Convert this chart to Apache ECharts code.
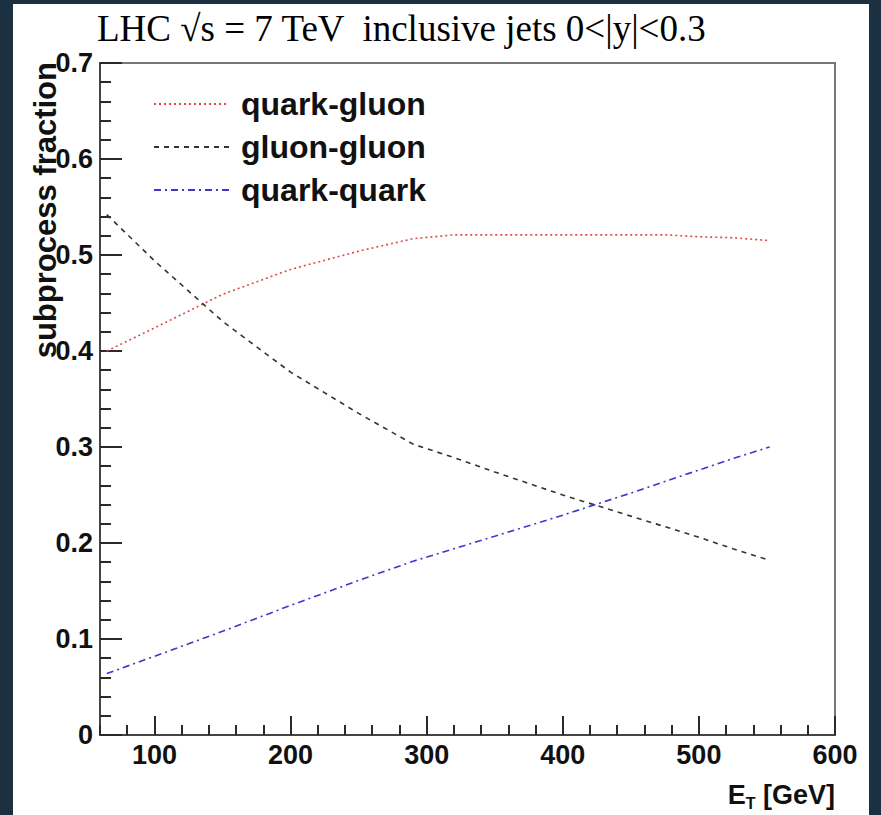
<!DOCTYPE html>
<html>
<head>
<meta charset="utf-8">
<script src="https://cdn.jsdelivr.net/npm/echarts@6/dist/echarts.min.js"></script>
<style>
  html, body { margin: 0; padding: 0; background: #1b3142; width: 881px; height: 815px; overflow: hidden; }
  #chart { position: absolute; left: 13px; top: 4px; width: 856px; height: 811px; background: #ffffff; }
</style>
</head>
<body>
<div id="chart"></div>
<script>
// ---- data ----
const etValues = [65, 100, 150, 200, 250, 290, 320, 350, 400, 450, 475, 500, 525, 552];
const quarkGluon = [0.400, 0.424, 0.459, 0.485, 0.504, 0.517, 0.521, 0.521, 0.521, 0.521, 0.521, 0.519, 0.518, 0.515];
const gluonGluon = [0.542, 0.494, 0.431, 0.378, 0.335, 0.303, 0.289, 0.274, 0.250, 0.228, 0.217, 0.206, 0.194, 0.182];
const quarkQuark = [0.064, 0.082, 0.108, 0.135, 0.161, 0.181, 0.194, 0.207, 0.229, 0.252, 0.264, 0.276, 0.288, 0.300];
const seriesNames = ['quark-gluon', 'gluon-gluon', 'quark-quark'];
const xMajorTicks = [100, 200, 300, 400, 500, 600];
const yMajorTicks = [0, 0.1, 0.2, 0.3, 0.4, 0.5, 0.6, 0.7];
const titleText = 'LHC \u221As = 7 TeV  inclusive jets 0<|y|<0.3';
const yAxisTitle = 'subprocess fraction';

function pairs(xs, ys) { return xs.map((x, i) => [x, ys[i]]); }

const chart = echarts.init(document.getElementById('chart'), null, { renderer: 'svg' });
const labelFont = { fontFamily: 'Liberation Sans', fontWeight: 'bold', fontSize: 27, color: '#111' };
const tickLine = { color: '#2a2a2a', width: 2 };

chart.setOption({
  animation: false,
  backgroundColor: '#ffffff',
  title: {
    text: titleText, left: 84, top: 6, padding: 0,
    textStyle: { fontFamily: 'Liberation Serif', fontWeight: 'normal', fontSize: 37, color: '#000' }
  },
  legend: {
    orient: 'vertical', left: 135, top: 78, itemWidth: 75, itemHeight: 14, itemGap: 9,
    data: seriesNames,
    itemStyle: { opacity: 0 },
    textStyle: { fontFamily: 'Liberation Sans', fontWeight: 'bold', fontSize: 32, lineHeight: 34, color: '#111', padding: [0, 0, 0, 7] }
  },
  grid: { left: 87, top: 59, right: 34, bottom: 80, show: true, borderColor: '#777', borderWidth: 2, backgroundColor: 'transparent' },
  xAxis: [
    {
      type: 'value', min: 60, max: 600, interval: 20,
      axisLine: { show: true, lineStyle: { color: '#444', width: 2 } },
      axisTick: { show: true, inside: true, length: 10, lineStyle: tickLine },
      axisLabel: { show: false },
      splitLine: { show: false }
    },
    {
      type: 'value', min: 60, max: 600, position: 'bottom',
      axisLine: { show: false },
      axisTick: { show: true, inside: true, length: 19, customValues: xMajorTicks, lineStyle: tickLine },
      axisLabel: Object.assign({ show: true, margin: 6, customValues: xMajorTicks }, labelFont),
      splitLine: { show: false }
    }
  ],
  yAxis: [
    {
      type: 'value', min: 0, max: 0.7, interval: 0.02, position: 'left',
      axisLine: { show: true, lineStyle: { color: '#444', width: 2 } },
      axisTick: { show: true, inside: true, length: 11, lineStyle: tickLine },
      axisLabel: { show: false },
      splitLine: { show: false }
    },
    {
      type: 'value', min: 0, max: 0.7, position: 'left',
      axisLine: { show: false },
      axisTick: { show: true, inside: true, length: 22, customValues: yMajorTicks, lineStyle: tickLine },
      axisLabel: Object.assign({ margin: 7, customValues: yMajorTicks, formatter: v => (Math.abs(v) < 1e-9 ? '0' : v.toFixed(1)) }, labelFont),
      splitLine: { show: false }
    }
  ],
  graphic: [
    {
      type: 'text', x: 32, y: 58, rotation: Math.PI / 2,
      style: { text: yAxisTitle, fontFamily: 'Liberation Sans', fontWeight: 'bold', fontSize: 31, fill: '#111', align: 'right', verticalAlign: 'middle' }
    },
    {
      type: 'text', x: 822, y: 791,
      style: {
        text: '{m|E}{s|T}{m| [GeV]}', align: 'right', verticalAlign: 'middle',
        rich: {
          m: { fontFamily: 'Liberation Sans', fontWeight: 'bold', fontSize: 27, fill: '#111' },
          s: { fontFamily: 'Liberation Sans', fontWeight: 'bold', fontSize: 16, fill: '#111', padding: [16, 0, 0, 0] }
        }
      }
    }
  ],
  series: [
    {
      name: seriesNames[0], type: 'line', data: pairs(etValues, quarkGluon), xAxisIndex: 0, yAxisIndex: 0,
      showSymbol: false, symbol: 'none', color: '#e04848',
      lineStyle: { color: '#e04848', width: 1.6, type: [2, 3] }
    },
    {
      name: seriesNames[1], type: 'line', data: pairs(etValues, gluonGluon), xAxisIndex: 0, yAxisIndex: 0,
      showSymbol: false, symbol: 'none', color: '#333333',
      lineStyle: { color: '#333333', width: 1.6, type: [5, 5] }
    },
    {
      name: seriesNames[2], type: 'line', data: pairs(etValues, quarkQuark), xAxisIndex: 0, yAxisIndex: 0,
      showSymbol: false, symbol: 'none', color: '#3a3ac8',
      lineStyle: { color: '#3a3ac8', width: 1.6, type: [7, 4, 2, 4] }
    }
  ]
});
</script>
</body>
</html>
